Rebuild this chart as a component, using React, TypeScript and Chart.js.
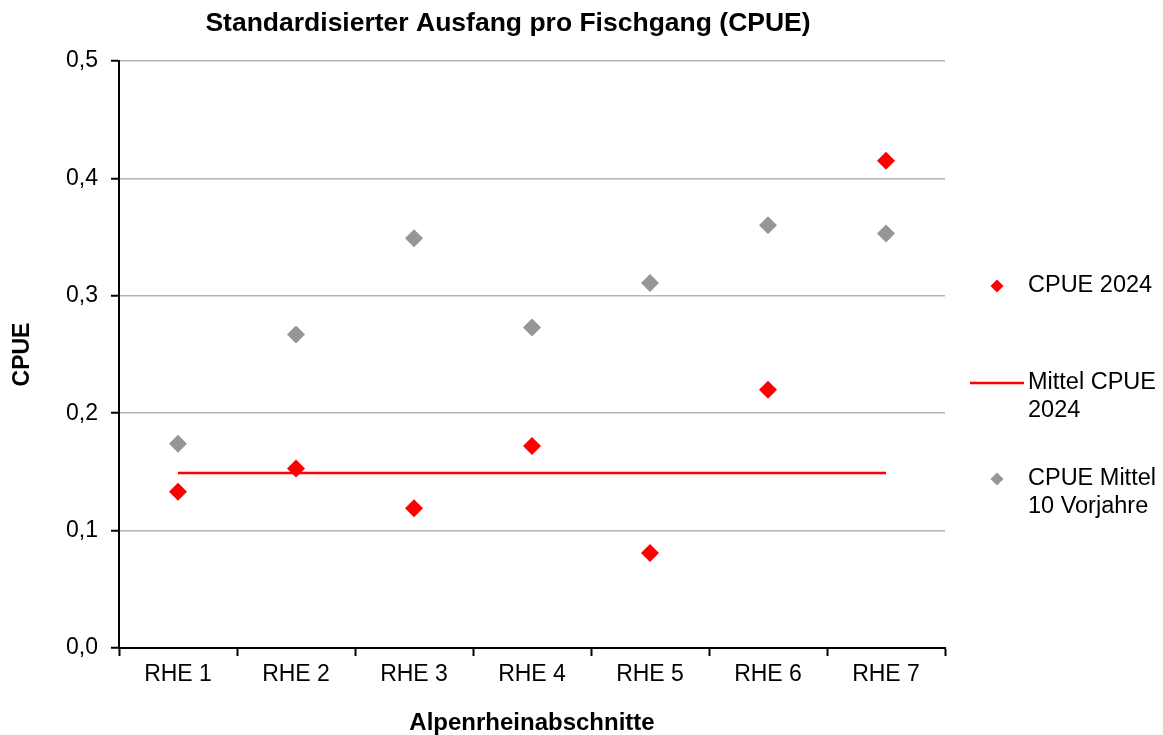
import React, { useEffect, useRef } from 'react';
import { Chart, registerables } from 'chart.js';

Chart.register(...registerables);

const categories = ['RHE 1', 'RHE 2', 'RHE 3', 'RHE 4', 'RHE 5', 'RHE 6', 'RHE 7'];
const cpue2024 = [0.133, 0.153, 0.119, 0.172, 0.081, 0.220, 0.415];
const cpueMittel10 = [0.174, 0.267, 0.349, 0.273, 0.311, 0.360, 0.353];
const mittel2024 = [0.149, 0.149, 0.149, 0.149, 0.149, 0.149, 0.149];
const yTickValues = [0, 0.1, 0.2, 0.3, 0.4, 0.5];

const titleText = 'Standardisierter Ausfang pro Fischgang (CPUE)';
const xTitle = 'Alpenrheinabschnitte';
const yTitle = 'CPUE';
const legendItems = [
  { kind: 'point', color: '#ff0000', lines: ['CPUE 2024'] },
  { kind: 'line', color: '#ff0000', lines: ['Mittel CPUE', '2024'] },
  { kind: 'point', color: '#969696', lines: ['CPUE Mittel', '10 Vorjahre'] },
];

const FONT = '"Liberation Sans", Arial, sans-serif';

const decorPlugin = {
  id: 'decor',
  afterDraw(chart: any) {
    const ctx = chart.ctx as CanvasRenderingContext2D;
    const area = chart.chartArea;
    ctx.save();
    ctx.fillStyle = '#000';
    // title
    ctx.font = `bold 26.5px ${FONT}`;
    ctx.textAlign = 'center';
    ctx.textBaseline = 'alphabetic';
    ctx.fillText(titleText, 508, 31);
    // x title
    ctx.font = `bold 24px ${FONT}`;
    ctx.fillText(xTitle, (area.left + area.right) / 2, 730);
    // y title
    ctx.save();
    ctx.translate(23, (area.top + area.bottom) / 2);
    ctx.rotate(-Math.PI / 2);
    ctx.font = `bold 23px ${FONT}`;
    ctx.textBaseline = 'middle';
    ctx.fillText(yTitle, 0, 0);
    ctx.restore();
    // legend
    const startYs = [286, 383, 479];
    ctx.font = `23.5px ${FONT}`;
    ctx.textAlign = 'left';
    ctx.textBaseline = 'middle';
    legendItems.forEach((item, i) => {
      const y = startYs[i];
      if (item.kind === 'point') {
        const r = 6.5;
        const cx = 997;
        ctx.fillStyle = item.color;
        ctx.beginPath();
        ctx.moveTo(cx - r, y);
        ctx.lineTo(cx, y - r);
        ctx.lineTo(cx + r, y);
        ctx.lineTo(cx, y + r);
        ctx.closePath();
        ctx.fill();
      } else {
        ctx.strokeStyle = item.color;
        ctx.lineWidth = 2.5;
        ctx.beginPath();
        ctx.moveTo(970, y);
        ctx.lineTo(1024, y);
        ctx.stroke();
      }
      ctx.fillStyle = '#000';
      item.lines.forEach((t, j) => {
        ctx.fillText(t, 1028, y + j * 27.5);
      });
    });
    ctx.restore();
  },
};

export default function App() {
  const canvasRef = useRef<HTMLCanvasElement | null>(null);

  useEffect(() => {
    if (!canvasRef.current) return;
    const chart = new Chart(canvasRef.current, {
      type: 'line',
      data: {
        labels: categories,
        datasets: [
          {
            label: 'CPUE 2024',
            data: cpue2024,
            showLine: false,
            pointStyle: 'rectRot',
            pointRadius: 9,
            pointBackgroundColor: '#ff0000',
            pointBorderWidth: 0,
            borderColor: '#ff0000',
          },
          {
            label: 'CPUE Mittel 10 Vorjahre',
            data: cpueMittel10,
            showLine: false,
            pointStyle: 'rectRot',
            pointRadius: 9,
            pointBackgroundColor: '#969696',
            pointBorderWidth: 0,
            borderColor: '#969696',
          },
          {
            label: 'Mittel CPUE 2024',
            data: mittel2024,
            borderColor: '#ff0000',
            borderWidth: 2.5,
            pointRadius: 0,
            fill: false,
          },
        ],
      },
      options: {
        responsive: false,
        animation: false,
        events: [],
        layout: { padding: { top: 61, right: 218, left: 0, bottom: 0 } },
        plugins: {
          legend: { display: false },
          title: { display: false },
          tooltip: { enabled: false },
        },
        scales: {
          x: {
            type: 'category',
            offset: true,
            grid: {
              display: true,
              offset: true,
              drawOnChartArea: false,
              drawTicks: true,
              tickLength: 8,
              tickColor: '#000',
              tickWidth: 2,
            },
            border: { display: true, color: '#000', width: 2 },
            ticks: {
              color: '#000',
              font: { family: FONT, size: 23 },
              padding: 5,
              maxRotation: 0,
              autoSkip: false,
            },
            afterFit: (s: any) => {
              s.height = 87;
            },
          },
          y: {
            type: 'linear',
            min: 0,
            max: 0.5,
            afterBuildTicks: (s: any) => {
              s.ticks = yTickValues.map((v) => ({ value: v }));
            },
            grid: {
              color: '#b4b4b4',
              lineWidth: 1.5,
              tickLength: 8,
              tickColor: '#000',
              tickWidth: 2,
            },
            border: { display: true, color: '#000', width: 2 },
            ticks: {
              color: '#000',
              font: { family: FONT, size: 23 },
              padding: 13,
              callback: (v: any) => Number(v).toFixed(1).replace('.', ','),
            },
            afterFit: (s: any) => {
              s.width = 119;
            },
          },
        },
      },
      plugins: [decorPlugin],
    });
    return () => chart.destroy();
  }, []);

  return (
    <div style={{ position: 'absolute', left: 0, top: 0, width: 1163, height: 735, background: '#fff' }}>
      <canvas ref={canvasRef} width={1163} height={735} />
    </div>
  );
}
